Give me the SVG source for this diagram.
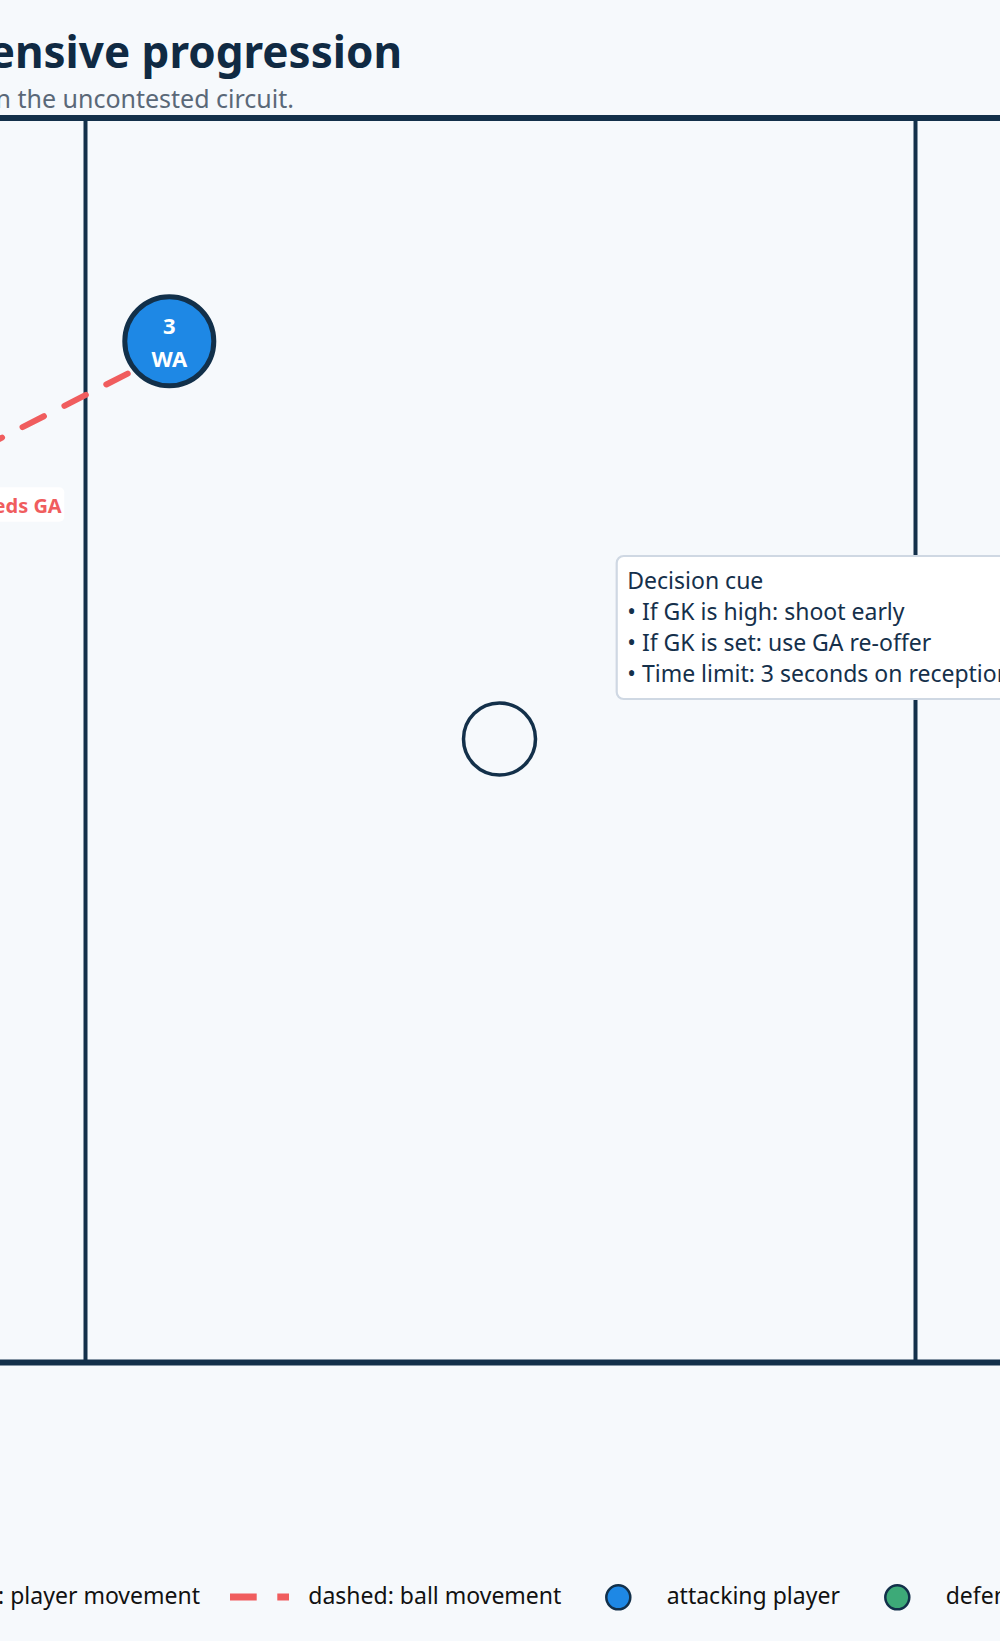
<svg xmlns="http://www.w3.org/2000/svg" width="1000" height="1641" viewBox="0 0 1000 1641">
  <style>
    .title { font-family: "Noto Sans", "Open Sans", sans-serif; font-weight: 700; font-size: 44px; fill: #102a43; }
    .subtitle { font-family: "Noto Sans", "Open Sans", sans-serif; font-size: 25px; fill: #5a6878; }
    .court { stroke: #13304a; fill: none; }
    .player-label { font-family: "Noto Sans", "Open Sans", sans-serif; font-weight: 700; font-size: 22px; fill: #ffffff; text-anchor: middle; }
    .ball { stroke: #f05d5e; stroke-width: 6; fill: none; stroke-linecap: round; stroke-dasharray: 24 23; }
    .edge-label { font-family: "Noto Sans", "Open Sans", sans-serif; font-weight: 700; font-size: 20px; fill: #f05d5e; text-anchor: end; }
    .note { font-family: "Noto Sans", "Open Sans", sans-serif; font-size: 23px; fill: #15304b; }
    .legend { font-family: "Noto Sans", "Open Sans", sans-serif; font-size: 23px; fill: #111111; }
  </style>
  <rect x="0" y="0" width="1000" height="1641" fill="#f6f9fc"/>

  <g id="header">
    <text class="title" x="402" y="68" text-anchor="end">ensive progression</text>
    <text class="subtitle" x="294" y="108" text-anchor="end">n the uncontested circuit.</text>
  </g>

  <g id="court">
    <line class="court" x1="0" y1="118" x2="1000" y2="118" stroke-width="6"/>
    <line class="court" x1="0" y1="1362.5" x2="1000" y2="1362.5" stroke-width="6"/>
    <line class="court" x1="85.5" y1="118" x2="85.5" y2="1362" stroke-width="4"/>
    <line class="court" x1="915.5" y1="118" x2="915.5" y2="1362" stroke-width="4"/>
    <circle class="court" cx="499.5" cy="739" r="36" stroke-width="3.5"/>
  </g>

  <g id="connectors">
    <line class="ball" x1="127.7" y1="373.6" x2="-20" y2="448.8"/>
    <g id="label-feeds-ga">
      <rect x="-10" y="487.3" width="74.3" height="34.4" rx="5" fill="#ffffff" fill-opacity="0.95"/>
      <text class="edge-label" x="61.7" y="512.7">eds GA</text>
    </g>
  </g>

  <g id="node-wa">
    <circle cx="169.3" cy="341.3" r="44.5" fill="#1e88e5" stroke="#12304a" stroke-width="5"/>
    <text class="player-label" x="169.3" y="334.3">3</text>
    <text class="player-label" x="169.3" y="366.7">WA</text>
  </g>

  <g id="decision-cue">
    <rect x="616.7" y="556" width="420" height="143" rx="7" fill="#ffffff" stroke="#cfd8e3" stroke-width="2.2"/>
    <text class="note" x="627.3" y="589.3">Decision cue</text>
    <text class="note" x="627.3" y="620">• If GK is high: shoot early</text>
    <text class="note" x="627.3" y="650.7">• If GK is set: use GA re-offer</text>
    <text class="note" x="627.3" y="682.3">• Time limit: 3 seconds on reception</text>
  </g>

  <g id="legend">
    <text class="legend" x="200" y="1604" text-anchor="end">: player movement</text>
    <line x1="230" y1="1597" x2="289" y2="1597" stroke="#f05d5e" stroke-width="7" stroke-dasharray="26.7 20.6"/>
    <text class="legend" x="308.3" y="1604">dashed: ball movement</text>
    <circle cx="618.3" cy="1597.3" r="12" fill="#1e88e5" stroke="#12304a" stroke-width="2.5"/>
    <text class="legend" x="666.7" y="1604">attacking player</text>
    <circle cx="897.3" cy="1597.3" r="12" fill="#3daa78" stroke="#12304a" stroke-width="2.5"/>
    <text class="legend" x="945.7" y="1604">defending player</text>
  </g>
</svg>
